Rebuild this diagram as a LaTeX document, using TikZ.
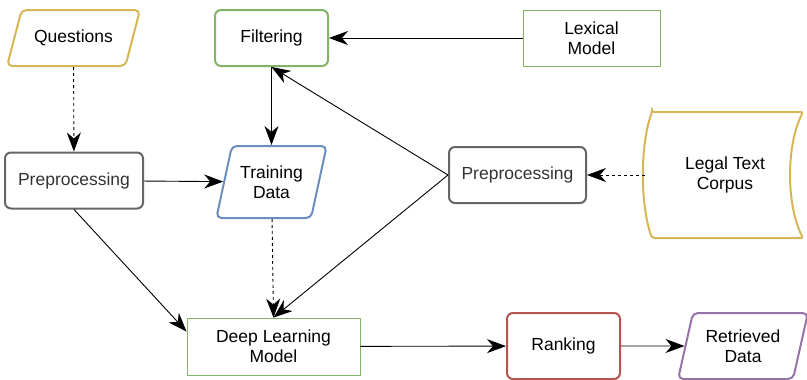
\documentclass[tikz,border=0pt]{standalone}
\usepackage{fontspec}
\setmainfont{Liberation Sans}
\usetikzlibrary{shapes.geometric,arrows.meta}

\definecolor{gold}{HTML}{D6B656}
\definecolor{leaf}{HTML}{82B366}
\definecolor{sky}{HTML}{6C8EBF}
\definecolor{brick}{HTML}{B85450}
\definecolor{plum}{HTML}{9673A6}
\definecolor{slate}{HTML}{666666}

\tikzset{
  box/.style={draw, rounded corners=6pt, line width=2pt, align=center,
    minimum width=113pt, minimum height=56pt},
  plainbox/.style={draw=leaf, line width=0.8pt, align=center},
  io/.style={draw, trapezium, trapezium stretches=true, rounded corners=5pt,
    line width=2pt, align=center},
  flow/.style={-{Stealth[length=19pt,width=14pt,inset=6pt]}, line width=0.9pt},
  weak/.style={flow, dash pattern=on 3pt off 3pt}
}

\begin{document}
\begin{tikzpicture}[x=1pt, y=-1pt, font=\fontsize{17.5}{20}\selectfont]
  \useasboundingbox (0,0) rectangle (807,380);

  \node[io, draw=gold, trapezium left angle=62, trapezium right angle=118,
    minimum width=133pt, minimum height=56pt] (quest) at (73.5,38) {Questions};
  \node[box, draw=leaf] (filter) at (271.5,38) {Filtering};
  \node[plainbox, minimum width=137pt, minimum height=56pt] (lexical) at (591.5,38) {Lexical\\Model};
  \node[box, draw=slate, text=black!80, minimum width=138pt] (prepL) at (74,180.5) {Preprocessing};
  \node[io, draw=sky, trapezium left angle=71, trapezium right angle=109,
    minimum width=111pt, minimum height=72pt] (train) at (271.5,182) {Training\\Data};
  \node[box, draw=slate, text=black!80, minimum width=137pt] (prepR) at (517.5,175) {Preprocessing};
  \node[minimum width=160pt, minimum height=126pt, align=center] (corpus) at (725,175) {Legal Text\\Corpus};
  \node[plainbox, minimum width=173pt, minimum height=57pt] (dl) at (273.5,346.5) {Deep Learning\\Model};
  \node[box, draw=brick, minimum height=66pt] (rank) at (563.5,346) {Ranking};
  \node[io, draw=plum, trapezium left angle=73, trapezium right angle=107,
    minimum width=130pt, minimum height=66pt] (found) at (743,346) {Retrieved\\Data};

  % stored data outline
  \draw[gold, line width=2pt, rounded corners=2pt]
    (652,112) -- (803,112) .. controls (786,145) and (786,205) .. (803,238)
    -- (652,238) .. controls (640,205) and (640,145) .. (652,112) -- cycle;

  \draw[weak] (quest) -- (prepL);
  \draw[flow] (filter) -- (train);
  \draw[flow] (lexical) -- (filter);
  \draw[flow] (prepL) -- (train);
  \draw[flow] (prepR.west) -- (filter.south);
  \draw[flow] (prepR.west) -- (dl.north);
  \draw[weak] (corpus.west) -- (prepR.east);
  \draw[weak] (train) -- (dl.north);
  \draw[flow] (prepL.south) -- ([yshift=-14pt]dl.north west);
  \draw[flow] (dl) -- (rank);
  \draw[flow] (rank) -- (found);
\end{tikzpicture}
\end{document}
